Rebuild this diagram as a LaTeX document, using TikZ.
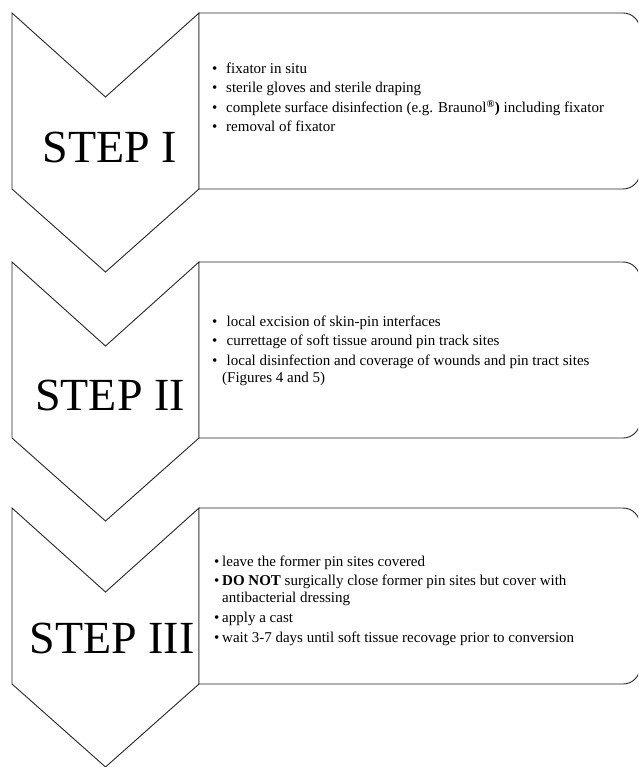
\documentclass[tikz,border=0pt]{standalone}
\usepackage{fontspec}
\setmainfont{Liberation Serif}
\begin{document}
\begin{tikzpicture}[x=1pt,y=-1pt,
  outline/.style={draw=black!85,line width=0.9pt,fill=white,line join=miter},
  steplabel/.style={font=\fontsize{46}{50}\selectfont,anchor=base,inner sep=0pt},
  item/.style={font=\fontsize{15}{18}\selectfont,anchor=base west,inner sep=0pt},
  bul/.style={font=\fontsize{15}{18}\selectfont,anchor=base west,inner sep=0pt}]
\useasboundingbox (0,0) rectangle (638,767);
\clip (0,0) rectangle (638,767);
% step shapes
\foreach \t in {13,262,508}{
  \draw[outline] (12,\t) -- (105.5,\t+84) -- (199,\t) -- (199,\t+176) -- (105.5,\t+259) -- (12,\t+176) -- cycle;
  \draw[outline] (199,\t+176) -- (199,\t) [rounded corners=17pt] -- (640,\t) -- (640,\t+176) [sharp corners] -- cycle;
}
% labels
\node[steplabel] (s1) at (110,163) {STEP I};
\node[steplabel] (s2) at (110,410) {STEP II};
\node[steplabel] (s3) at (112,653) {STEP III};
% box 1
\node[bul] (b1a) at (212,73.3) {•};
\node[item] (t1a) at (226,73.3) {fixator in situ};
\node[bul] (b1b) at (212,93) {•};
\node[item] (t1b) at (226,93) {sterile gloves and sterile draping};
\node[bul] (b1c) at (212,112.5) {•};
\node[item] (t1c) at (226,112.5) {complete surface disinfection (e.g. Braunol\textsuperscript{\textbf{®}}\textbf{)} including fixator};
\node[bul] (b1d) at (212,132) {•};
\node[item] (t1d) at (226,132) {removal of fixator};
% box 2
\node[bul] (b2a) at (212,326) {•};
\node[item] (t2a) at (226.5,326) {local excision of skin-pin interfaces};
\node[bul] (b2b) at (212,345.5) {•};
\node[item] (t2b) at (226.5,345.5) {currettage of soft tissue around pin track sites};
\node[bul] (b2c) at (212,365) {•};
\node[item] (t2c) at (226.5,365) {local disinfection and coverage of wounds and pin tract sites};
\node[item] (t2d) at (222,382) {(Figures 4 and 5)};
% box 3
\node[bul] (b3a) at (214,566) {•};
\node[item] (t3a) at (222,566) {leave the former pin sites covered};
\node[bul] (b3b) at (214,585.5) {•};
\node[item] (t3b) at (222,585.5) {\textbf{DO NOT} surgically close former pin sites but cover with};
\node[item] (t3c) at (222,602) {antibacterial dressing};
\node[bul] (b3d) at (214,622) {•};
\node[item] (t3d) at (222,622) {apply a cast};
\node[bul] (b3e) at (214,642) {•};
\node[item] (t3e) at (222,642) {wait 3-7 days until soft tissue recovage prior to conversion};
\end{tikzpicture}
\end{document}
